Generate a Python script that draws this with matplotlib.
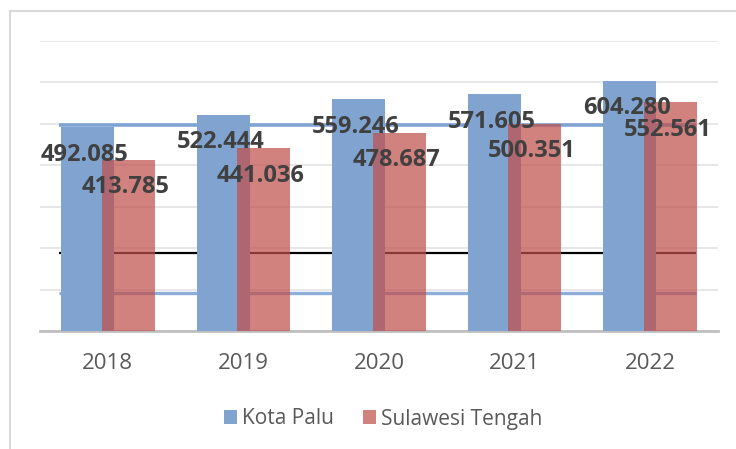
import matplotlib.pyplot as plt
from matplotlib.patches import Rectangle

years = ['2018', '2019', '2020', '2021', '2022']
kota_palu = [492085, 522444, 559246, 571605, 604280]
sulteng = [413785, 441036, 478687, 500351, 552561]
labels_palu = ['492.085', '522.444', '559.246', '571.605', '604.280']
labels_sulteng = ['413.785', '441.036', '478.687', '500.351', '552.561']

plt.rcParams['font.family'] = ['Open Sans', 'DejaVu Sans']

blue = '#80A4CF'
red = '#C0504D'
txt = '#404040'

fig = plt.figure(figsize=(7.36, 4.49), dpi=100)
ax = fig.add_axes([40 / 736, 118 / 449, 678 / 736, 290 / 449])

x = list(range(len(years)))
w = 0.39
off = 0.15

ax.bar([i - off for i in x], kota_palu, w, color=blue, zorder=3, label='Kota Palu')
ax.bar([i + off for i in x], sulteng, w, color=red, alpha=0.72, zorder=4, label='Sulawesi Tengah')

# stray lines from the original scan
ax.hlines(497000, -0.36, 4.34, color='#7FA3D2', lw=2.6, zorder=2)
ax.hlines(188000, -0.36, 4.34, color='black', lw=1.6, zorder=2)
ax.hlines(91000, -0.36, 4.34, color='#8DAEDB', lw=2.4, zorder=2)

for i in x:
    ax.annotate(labels_palu[i], (i - off, kota_palu[i]), xytext=(-2, -20),
                textcoords='offset points', ha='center', va='center',
                fontsize=17, fontweight='bold', color=txt, zorder=6)
    ax.annotate(labels_sulteng[i], (i + off, sulteng[i]), xytext=(-2, -20),
                textcoords='offset points', ha='center', va='center',
                fontsize=17, fontweight='bold', color=txt, zorder=6)

ax.set_xlim(-0.5, 4.5)
ax.set_ylim(0, 700000)
ax.set_yticks(range(0, 700001, 100000))
ax.yaxis.grid(True, color='#E3E3E3', lw=1.2, zorder=0)
ax.set_axisbelow(True)
ax.tick_params(axis='y', left=False, labelleft=False)
ax.set_xticks(x)
ax.set_xticklabels(years, fontsize=16, color='#595959')
ax.tick_params(axis='x', length=0, pad=16)
for s in ['top', 'right', 'left']:
    ax.spines[s].set_visible(False)
ax.spines['bottom'].set_color('#BFBFBF')
ax.spines['bottom'].set_linewidth(2)

fig.add_artist(Rectangle((10 / 736, -0.1), 1.0, (449 - 11) / 449 + 0.1,
                         transform=fig.transFigure, fill=False,
                         edgecolor='#D9D9D9', lw=1.5))

fig.legend(loc='center', bbox_to_anchor=(383 / 736, 30 / 449), ncol=2,
           frameon=False, fontsize=15, labelcolor='#595959',
           handlelength=0.62, handleheight=0.62, handletextpad=0.25,
           columnspacing=1.4)

fig.savefig('out.png', dpi=100)
